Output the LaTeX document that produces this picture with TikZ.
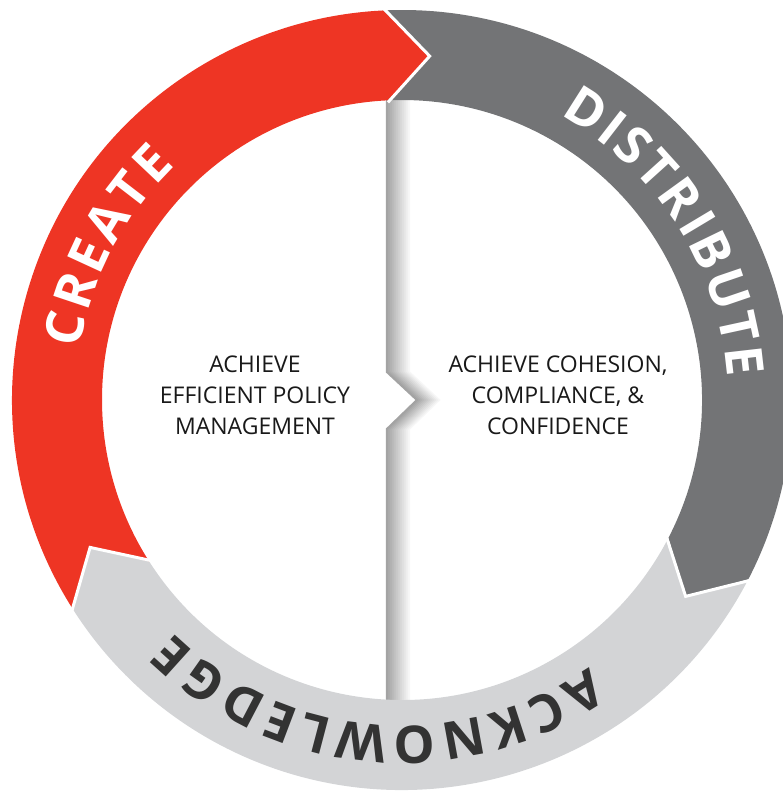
\documentclass[tikz,border=0pt]{standalone}
\usepackage{fontspec}
\setmainfont{Open Sans}
\usetikzlibrary{decorations.text}

\definecolor{createred}{RGB}{238,53,36}
\definecolor{distgray}{RGB}{115,116,118}
\definecolor{ackgray}{RGB}{211,212,214}
\definecolor{ackdark}{RGB}{51,51,51}

\newcommand{\ringlabel}{\bfseries\fontsize{52}{52}\selectfont}

\begin{document}
\begin{tikzpicture}[
  x=1pt,y=1pt,
  blurb/.style={align=center,text=black!90,inner sep=0pt,
    font=\fontsize{23}{31}\selectfont},
  gap/.style={draw=white,line width=3pt,line join=miter},
  arclabel/.style={decorate,decoration={text along path,
    text align=fit to path,text color=#1}}
]
\useasboundingbox (0,0) rectangle (782,792);

% divider with its shadow
\foreach \i [evaluate=\i as \c using 36-3*\i] in {11,...,0}
  \draw[black!\c,line width=2.2pt,line join=miter]
    ([xshift=2*\i]387,697) -- ([xshift=2*\i]387,420) -- ([xshift=2*\i]417,392)
    -- ([xshift=2*\i]387,363) -- ([xshift=2*\i]387,87);

\begin{scope}[shift={(402,392)}]
% the three arrows of the ring
\foreach \col/\t/\h in {createred/212.6/92.7,distgray/92.7/-27.4,ackgray/-27.4/-147.4}
  \fill[\col] (\t:390pt) arc[start angle=\t,end angle=\h,radius=390pt]
    -- ({\h-7.3}:345pt) -- (\h:300pt)
    arc[start angle=\h,end angle=\t,radius=300pt]
    -- ({\t-7.3}:345pt) -- cycle;
\foreach \h in {92.7,-27.4,-147.4}
  \draw[gap] (\h:392pt) -- ({\h-7.3}:345pt) -- (\h:298pt);

\path[arclabel=white,decoration={text={|\ringlabel|CREATE}}]
  (171:326pt) arc[start angle=171,end angle=134,radius=326pt];
\path[arclabel=white,decoration={text={|\ringlabel|DISTRIBUTE}}]
  (61:326pt) arc[start angle=61,end angle=4,radius=326pt];
\path[arclabel=ackdark,decoration={text={|\ringlabel|ACKNOWLEDGE}}]
  (-55:326pt) arc[start angle=-55,end angle=-134.5,radius=326pt];
\end{scope}

\node[blurb] (efficient) at (255,397) {ACHIEVE\\EFFICIENT POLICY\\MANAGEMENT};
\node[blurb] (cohesion) at (558,397) {ACHIEVE COHESION,\\COMPLIANCE, \&\\CONFIDENCE};
\end{tikzpicture}
\end{document}
